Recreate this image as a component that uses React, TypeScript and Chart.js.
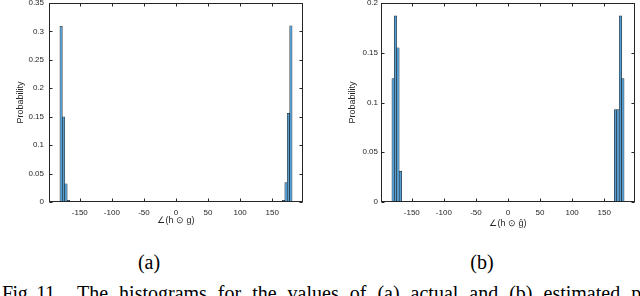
import React, { useEffect, useRef } from "react";
import { Chart, registerables } from "chart.js";

Chart.register(...registerables);

// ---- data ----
const BIN_CENTERS = [-179.1, -175.3, -171.5, -167.7, 167.7, 171.5, 175.3, 179.1];
const PROB_ACTUAL = [0.309, 0.15, 0.032, 0.003, 0.003, 0.034, 0.156, 0.31];
const PROB_ESTIMATED = [0.124, 0.187, 0.155, 0.031, 0.093, 0.093, 0.187, 0.124];
const X_TICKS = [-150, -100, -50, 0, 50, 100, 150];
const Y_TICKS_A = [0, 0.05, 0.1, 0.15, 0.2, 0.25, 0.3, 0.35];
const Y_TICKS_B = [0, 0.05, 0.1, 0.15, 0.2];
const X_MIN = -198;
const X_MAX = 198;
const X_LABEL_A = "∠(h ⊙ g)";
const X_LABEL_B = "∠(h ⊙ ĝ)";
const Y_LABEL = "Probability";
const CAPTION_A = "(a)";
const CAPTION_B = "(b)";
const FIG_LABEL = "Fig. 11.";
const FIG_TEXT = "The histograms for the values of (a) actual and (b) estimated phase differences";

const AXIS_COLOR = "#262626";
const FONT = "'Liberation Sans', Arial, sans-serif";

const framePlugin = {
  id: "frame",
  afterDraw(chart: any) {
    const { ctx, chartArea } = chart;
    const { left, right, top, bottom } = chartArea;
    const xs = chart.scales.x;
    const ys = chart.scales.y;
    ctx.save();
    ctx.strokeStyle = AXIS_COLOR;
    ctx.lineWidth = 1;
    const L = Math.round(left) + 0.5;
    const R = Math.round(right) - 0.5;
    const T = Math.round(top) + 0.5;
    const B = Math.round(bottom) - 0.5;
    ctx.strokeRect(L, T, R - L, B - T);
    const tl = 3;
    ctx.beginPath();
    xs.ticks.forEach((t: any) => {
      const px = Math.round(xs.getPixelForValue(t.value)) + 0.5;
      ctx.moveTo(px, B);
      ctx.lineTo(px, B - tl);
      ctx.moveTo(px, T);
      ctx.lineTo(px, T + tl);
    });
    ys.ticks.forEach((t: any) => {
      const py = Math.round(ys.getPixelForValue(t.value)) + 0.5;
      ctx.moveTo(L, py);
      ctx.lineTo(L + tl, py);
      ctx.moveTo(R, py);
      ctx.lineTo(R - tl, py);
    });
    ctx.stroke();
    ctx.restore();
  },
};

type PanelProps = {
  values: number[];
  yTicks: number[];
  xLabel: string;
  yAxisWidth: number;
  padRight: number;
  yTitlePad: number;
  yTickPad: number;
  xTitlePad: number;
};

function Panel({ values, yTicks, xLabel, yAxisWidth, padRight, yTitlePad, yTickPad, xTitlePad }: PanelProps) {
  const ref = useRef<HTMLCanvasElement | null>(null);
  useEffect(() => {
    if (!ref.current) return;
    const chart = new Chart(ref.current, {
      type: "bar",
      data: {
        datasets: [
          {
            data: BIN_CENTERS.map((x, i) => ({ x, y: values[i] })),
            backgroundColor: "rgb(86,158,210)",
            borderColor: "rgba(20,20,20,0.9)",
            borderWidth: 0.6,
            barPercentage: 1,
            categoryPercentage: 1,
          },
        ],
      },
      options: {
        animation: false,
        responsive: false,
        layout: { padding: { top: 3, right: padRight, left: 0, bottom: 0 } },
        plugins: { legend: { display: false }, tooltip: { enabled: false } },
        scales: {
          x: {
            type: "linear",
            min: X_MIN,
            max: X_MAX,
            offset: false,
            grid: { display: false, drawTicks: false },
            border: { display: false },
            afterBuildTicks: (s: any) => {
              s.ticks = X_TICKS.map((v) => ({ value: v }));
            },
            afterFit: (s: any) => {
              s.height = 28;
              s.paddingLeft = 0;
              s.paddingRight = 0;
            },
            ticks: {
              padding: 6,
              color: AXIS_COLOR,
              font: { family: FONT, size: 8 },
              maxRotation: 0,
              autoSkip: false,
              callback: (v: any) => String(v),
            },
            title: {
              display: true,
              text: xLabel,
              color: AXIS_COLOR,
              font: { family: FONT, size: 9 },
              padding: { top: 0, bottom: xTitlePad },
            },
          },
          y: {
            type: "linear",
            min: 0,
            max: yTicks[yTicks.length - 1],
            grid: { display: false, drawTicks: false },
            border: { display: false },
            afterBuildTicks: (s: any) => {
              s.ticks = yTicks.map((v) => ({ value: v }));
            },
            afterFit: (s: any) => {
              s.width = yAxisWidth;
              s.paddingTop = 0;
              s.paddingBottom = 0;
            },
            ticks: {
              padding: yTickPad,
              color: AXIS_COLOR,
              font: { family: FONT, size: 8 },
              autoSkip: false,
              callback: (v: any) => String(Math.round(Number(v) * 100) / 100),
            },
            title: {
              display: true,
              text: Y_LABEL,
              color: AXIS_COLOR,
              font: { family: FONT, size: 9 },
              padding: { top: yTitlePad, bottom: 0 },
            },
          },
        },
      } as any,
      plugins: [framePlugin],
    });
    return () => chart.destroy();
  }, []);
  return <canvas ref={ref} width={320} height={230} style={{ width: 320, height: 230, display: "block" }} />;
}

export default function App() {
  const serif = "'Liberation Serif', 'Times New Roman', serif";
  return (
    <div
      style={{
        position: "fixed",
        left: 0,
        top: 0,
        width: 640,
        height: 296,
        overflow: "hidden",
        background: "#fff",
      }}
    >
      <div style={{ position: "absolute", left: 0, top: 0 }}>
        <Panel values={PROB_ACTUAL} yTicks={Y_TICKS_A} xLabel={X_LABEL_A} yAxisWidth={49} padRight={17} yTitlePad={15} yTickPad={5} xTitlePad={4} />
      </div>
      <div style={{ position: "absolute", left: 320, top: 0 }}>
        <Panel values={PROB_ESTIMATED} yTicks={Y_TICKS_B} xLabel={X_LABEL_B} yAxisWidth={61} padRight={5} yTitlePad={27} yTickPad={3} xTitlePad={1} />
      </div>
      <div style={{ position: "absolute", left: 99, top: 252, width: 100, textAlign: "center", font: `20px/20px ${serif}`, color: "#000" }}>
        {CAPTION_A}
      </div>
      <div style={{ position: "absolute", left: 432, top: 252, width: 100, textAlign: "center", font: `20px/20px ${serif}`, color: "#000" }}>
        {CAPTION_B}
      </div>
      <div
        style={{
          position: "absolute",
          left: 2,
          top: 283,
          whiteSpace: "nowrap",
          font: `20px/20px ${serif}`,
          color: "#000",
          letterSpacing: "-0.5px",
        }}
      >
        {FIG_LABEL}
      </div>
      <div
        style={{
          position: "absolute",
          left: 77,
          top: 283,
          whiteSpace: "nowrap",
          font: `20px/20px ${serif}`,
          color: "#000",
          wordSpacing: "6px",
        }}
      >
        {FIG_TEXT}
      </div>
    </div>
  );
}
